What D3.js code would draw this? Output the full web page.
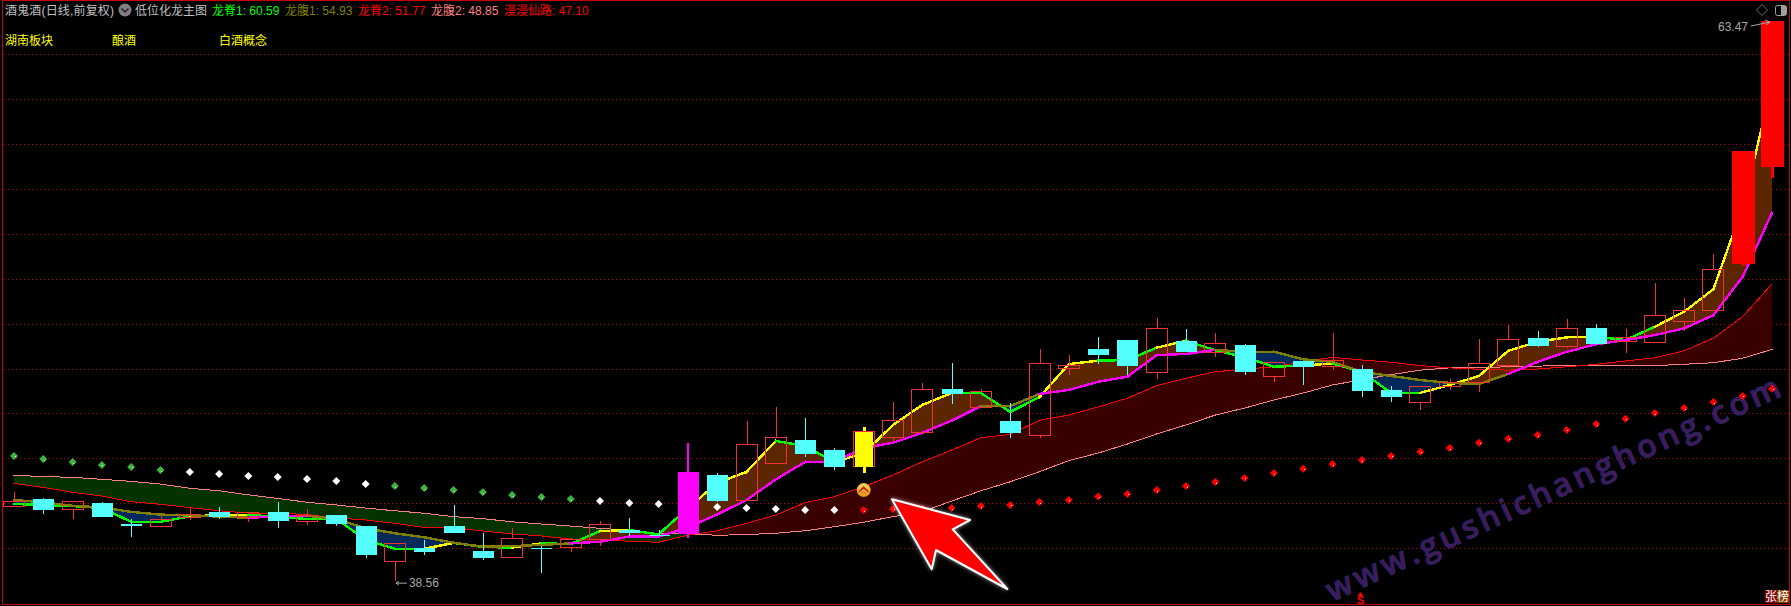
<!DOCTYPE html>
<html>
<head>
<meta charset="utf-8">
<style>
html,body{margin:0;padding:0;background:#000;}
svg{display:block;}
text{font-family:"Liberation Sans","Noto Sans CJK SC",sans-serif;font-size:12px;}
</style>
<script src="https://cdn.jsdelivr.net/npm/d3@7/dist/d3.min.js"></script>
</head>
<body>
<div id="chart"></div>
<script>
const opens = [41.85,42.19,41.72,42.02,41.08,40.96,41.36,41.62,41.39,41.62,41.18,41.48,40.99,39.40,40.01,40.99,39.88,39.58,40.01,40.03,40.40,40.81,40.59,40.64,43.26,42.12,43.77,44.82,44.37,43.62,44.91,45.14,47.09,46.25,45.67,45.01,47.99,48.87,49.27,47.81,49.23,48.71,49.05,47.64,48.34,48.08,47.98,47.04,46.48,47.19,47.39,48.13,49.36,48.97,49.80,49.21,49.15,50.09,50.57,52.65,56.97];
const closes = [42.09,41.70,42.09,41.39,41.00,41.29,41.51,41.39,41.60,41.22,41.45,41.08,39.70,40.22,39.84,40.68,39.57,40.44,39.97,40.40,41.07,40.68,40.55,43.40,42.11,44.63,44.94,44.20,43.62,45.18,45.71,47.08,46.87,46.99,45.13,48.23,48.14,48.60,48.11,49.79,48.73,49.12,47.85,48.28,48.07,48.38,47.00,46.73,47.21,47.39,48.23,49.30,49.00,49.79,49.09,49.39,50.37,50.59,52.42,57.68,63.47];
const highs = [42.50,42.24,42.09,42.08,41.30,41.45,41.82,41.84,41.60,42.06,41.75,41.48,40.99,40.22,40.37,41.93,40.68,40.90,40.10,40.46,41.22,41.35,40.81,44.69,43.35,45.67,46.29,45.80,44.46,45.40,46.51,47.36,48.24,47.09,46.47,48.87,48.60,49.40,49.27,50.25,49.76,49.58,49.09,48.28,48.34,49.58,48.16,47.22,47.21,47.53,49.31,49.94,49.67,50.20,49.98,49.76,51.81,51.14,53.10,57.68,63.47];
const lows = [41.85,41.53,41.30,41.39,40.50,40.96,41.26,41.30,41.17,40.90,41.04,40.99,39.57,38.56,39.70,40.68,39.48,39.58,38.90,39.84,40.10,40.55,40.55,40.46,42.06,42.12,43.77,44.06,43.49,43.35,44.78,45.14,46.42,46.25,44.91,44.91,47.71,48.20,47.71,47.53,48.73,48.51,47.71,47.40,47.27,47.93,46.73,46.51,46.15,47.04,46.97,48.04,48.96,48.93,49.06,48.70,49.15,49.67,50.57,52.56,56.48];

const longJi1 = [41.97,41.93,41.88,41.79,41.18,41.18,41.42,41.48,41.48,41.41,41.30,41.32,40.37,39.98,39.98,40.24,40.06,40.03,40.22,40.19,40.77,40.81,40.62,41.79,42.91,43.40,44.78,44.55,43.84,44.23,45.49,46.38,46.91,46.91,46.07,46.73,48.20,48.35,48.38,48.93,49.24,48.81,48.51,48.08,48.13,48.23,47.85,46.92,46.92,47.27,47.67,48.79,49.19,49.39,49.42,49.27,49.86,50.53,51.53,55.20,60.59];
const longFu1 = [42.15,42.05,41.89,41.82,41.62,41.50,41.47,41.41,41.36,41.42,41.45,41.30,40.89,40.67,40.49,40.25,40.07,40.10,40.15,40.22,40.29,40.52,40.52,40.93,41.51,42.15,43.07,43.84,43.84,44.46,44.70,45.14,45.68,46.33,46.33,46.87,47.05,47.41,47.64,48.60,48.65,48.83,48.75,48.75,48.41,48.30,47.85,47.67,47.49,47.36,47.31,47.76,48.30,48.75,49.08,49.27,49.49,49.79,50.38,52.09,54.93];
const longJi2 = [42.89,42.71,42.49,42.33,42.07,41.96,41.81,41.67,41.57,41.57,41.50,41.35,41.26,41.11,40.93,40.92,40.77,40.64,40.55,40.41,40.40,40.31,40.27,40.59,40.78,41.11,41.48,42.03,42.30,42.74,43.26,43.85,44.37,44.92,45.07,45.70,45.93,46.29,46.68,47.24,47.57,47.86,47.97,48.08,48.30,48.50,48.38,48.28,48.13,48.03,47.97,47.93,47.98,48.08,48.19,48.34,48.48,48.79,49.35,50.31,51.77];
const longFu2 = [43.25,43.19,43.16,43.07,42.98,42.86,42.67,42.56,42.38,42.22,42.05,41.93,41.79,41.67,41.56,41.41,41.32,41.18,41.08,40.99,40.89,40.81,40.64,40.64,40.58,40.61,40.67,40.78,40.96,41.16,41.41,41.63,42.10,42.56,42.96,43.41,43.90,44.24,44.64,45.09,45.49,45.93,46.24,46.60,46.91,47.27,47.50,47.73,47.93,48.03,48.04,48.08,48.11,48.13,48.13,48.13,48.13,48.19,48.26,48.46,48.85];
const manMan = [44.11,43.97,43.84,43.71,43.62,43.48,43.40,43.31,43.22,43.17,43.08,42.99,42.86,42.77,42.68,42.59,42.50,42.37,42.28,42.19,42.10,42.02,41.97,41.88,41.84,41.79,41.75,41.70,41.70,41.70,41.75,41.77,41.79,41.88,41.93,42.06,42.15,42.30,42.42,42.59,42.77,42.95,43.13,43.35,43.54,43.75,43.93,44.11,44.30,44.46,44.70,44.88,45.04,45.27,45.53,45.77,46.02,46.24,46.51,46.78,47.10];

const dotStates = ["g","g","g","g","g","g","w","w","w","w","w","w","w","g","g","g","g","g","g","g","w","w","w","w","w","w","w","w","w","r","r","r","r","r","r","r","r","r","r","r","r","r","r","r","r","r","r","r","r","r","r","r","r","r","r","r","r","r","r","r","r"];
const ji1YellowSegments = [6,7,14,17,20,23,24,25,28,29,30,31,35,36,39,44,48,49,50,51,52,53,56,57,58,59];
const fu1OliveSegments = [0,1,2,3,4,5,6,7,10,11,12,13,14,15,16,17,18,33,34,41,42,43,44,45,46,47,48,49,50];
const magentaBars = [23];
const yellowBars = [29];
const solidRedBars = [59,60];
const gridPrices = [40,42,44,46,48,50,52,54,56,58,60,62];
const signalIndex = 29, signalPrice = 42.59;
const highLabel = "63.47", lowLabel = "38.56";
const stockTitle = "酒鬼酒(日线,前复权)";
const mainTitle = "低位化龙主图";
const legendNames = ["龙脊1: 60.59","龙腹1: 54.93","龙脊2: 51.77","龙腹2: 48.85","漫漫仙路: 47.10"];
const conceptTags = ["湖南板块","酿酒","白酒概念"];
const watermark = "www.gushichanghong.com";

const W = 1791, H = 606;
const svg = d3.select("#chart").append("svg").attr("width",W).attr("height",H).style("background","#000");
const x = d3.scaleLinear().domain([0,60]).range([14,1772]);
const y = d3.scaleLinear().domain([40,62]).range([548.3,54]);
const idx = d3.range(opens.length);

// frame
svg.append("rect").attr("x",2.5).attr("y",0.5).attr("width",1787).attr("height",603.5)
  .attr("fill","none").attr("stroke","#c80000").attr("shape-rendering","crispEdges");

// grid
svg.append("g").selectAll("line").data(gridPrices).join("line")
  .attr("x1",4).attr("x2",1789).attr("y1",d=>Math.round(y(d))+0.5).attr("y2",d=>Math.round(y(d))+0.5)
  .attr("stroke","#b00000").attr("stroke-dasharray","1 3").attr("shape-rendering","crispEdges");

// watermark
svg.append("text").text(watermark)
  .attr("transform","translate(1332,602) rotate(-24.6)")
  .attr("textLength",496).attr("lengthAdjust","spacing")
  .style("font-family","'Open Sans','Noto Sans',sans-serif").style("font-size","32px").style("font-weight","600")
  .attr("fill","#451858").attr("stroke","#26266a").attr("stroke-width",0.9);

// bands
function bands(a,b,colorAbove,colorBelow){
  const runs=[]; let cur=null;
  idx.forEach(i=>{
    const d=a[i]-b[i], sign=d>=0?1:-1;
    if(i>0){ const pd=a[i-1]-b[i-1];
      if(pd*d<0){ const t=pd/(pd-d), v=a[i-1]+t*(a[i]-a[i-1]), c={i:i-1+t,a:v,b:v};
        cur.pts.push(c); cur={sign,pts:[c]}; runs.push(cur); } }
    if(!cur){ cur={sign,pts:[]}; runs.push(cur); }
    cur.pts.push({i,a:a[i],b:b[i]});
  });
  const area=d3.area().x(d=>x(d.i)).y0(d=>y(d.a)).y1(d=>y(d.b));
  const g=svg.append("g").attr("shape-rendering","crispEdges");
  runs.forEach(r=>g.append("path").attr("d",area(r.pts)).attr("fill",r.sign>0?colorAbove:colorBelow));
}
bands(longJi2,longFu2,"#3a0000","#053300");
bands(longJi1,longFu1,"#5c2600","#03295a");

// line helper: coloured by segment
function segLine(vals,colorFn,width){
  const line=d3.line().x(i=>x(i)).y(i=>y(vals[i]));
  const g=svg.append("g").attr("fill","none").attr("stroke-width",width).attr("shape-rendering","crispEdges").attr("stroke-linecap","square");
  idx.slice(0,-1).forEach(i=>g.append("path").attr("d",line([i,i+1])).attr("stroke",colorFn(i)));
}
segLine(longFu2,()=>"#ff8080",1);
segLine(longJi2,()=>"#ff0000",1);

// SAR dots
const dotColor={g:"#3fb53f",w:"#ffffff",r:"#ff0000"};
const diamond=d3.symbol().type(d3.symbolSquare).size(32);
const dots=svg.append("g");
dots.selectAll("path").data(idx).join("path").attr("d",diamond)
  .attr("transform",i=>`translate(${x(i)},${y(manMan[i])}) rotate(45)`)
  .attr("fill",i=>dotColor[dotStates[i]]);
dots.selectAll("rect").data(idx.filter(i=>dotStates[i]!=="w")).join("rect")
  .attr("x",i=>x(i)+0.5).attr("y",i=>y(manMan[i])+0.5).attr("width",1).attr("height",1).attr("fill","#fff").attr("shape-rendering","crispEdges");

segLine(longJi1,i=>ji1YellowSegments.includes(i)?"#ffff00":"#00ff00",2.4);
segLine(longFu1,i=>fu1OliveSegments.includes(i)?"#808000":"#ff00ff",2.4);

// candles
const RED="#f03232", CYAN="#54ffff";
const cg=svg.append("g").attr("shape-rendering","crispEdges");
idx.forEach(i=>{
  const cx=Math.round(x(i)), top=y(Math.max(opens[i],closes[i])), bot=y(Math.min(opens[i],closes[i]));
  const hi=y(highs[i]), lo=y(lows[i]);
  const isUp=closes[i]>=opens[i];
  const wick=(w,c)=>{
    cg.append("rect").attr("x",cx-w/2).attr("width",w).attr("y",hi).attr("height",Math.max(0,top-hi)).attr("fill",c);
    cg.append("rect").attr("x",cx-w/2).attr("width",w).attr("y",bot).attr("height",Math.max(0,lo-bot)).attr("fill",c);
  };
  if(magentaBars.includes(i)){ wick(2,"#ff00ff");
    cg.append("rect").attr("x",cx-10.5).attr("width",21).attr("y",top).attr("height",bot-top).attr("fill","#ff00ff");
  } else if(yellowBars.includes(i)){ wick(3,"#ffff00");
    cg.append("rect").attr("x",cx-10.5).attr("y",top).attr("width",21).attr("height",bot-top).attr("fill","none").attr("stroke",RED);
    cg.append("rect").attr("x",cx-9).attr("width",18).attr("y",top).attr("height",bot-top).attr("fill","#ffff00");
  } else if(solidRedBars.includes(i)){ wick(3,"#ff0000");
    cg.append("rect").attr("x",cx-11.5).attr("width",23).attr("y",top).attr("height",bot-top).attr("fill","#ff0000");
  } else if(isUp){ wick(1,RED);
    cg.append("rect").attr("x",cx-10.5).attr("y",top).attr("width",21).attr("height",bot-top).attr("fill","none").attr("stroke",RED);
  } else { wick(1,CYAN);
    cg.append("rect").attr("x",cx-10.5).attr("width",21).attr("y",top).attr("height",Math.max(1,bot-top)).attr("fill",CYAN);
  }
});

// signal coin
const defs=svg.append("defs");
const grad=defs.append("radialGradient").attr("id","coin").attr("cx","50%").attr("cy","30%").attr("r","75%");
grad.append("stop").attr("offset","0%").attr("stop-color","#ffe060");
grad.append("stop").attr("offset","60%").attr("stop-color","#f5b52a");
grad.append("stop").attr("offset","100%").attr("stop-color","#d97a10");
const coin=svg.append("g").attr("transform",`translate(${x(signalIndex)},${y(signalPrice)})`);
coin.append("circle").attr("r",7).attr("fill","url(#coin)");
coin.append("path").attr("d","M-5,1 L0,-4 L5,1 L5,3 L0,-1 L-5,3 Z").attr("fill","#c8281e");
coin.append("path").attr("d","M-3,3 L0,0.5 L3,3 L3,4 L-3,4 Z").attr("fill","#f08030");

// hi/lo labels
const labelC="#a8a8a8";
const lowX=x(13), lowY=y(38.56);
svg.append("path").attr("d",`M${lowX+1},${lowY+2.5} h11 M${lowX+1},${lowY+2.5} l3,-2 M${lowX+1},${lowY+2.5} l3,2`).attr("stroke",labelC).attr("fill","none");
svg.append("text").text(lowLabel).attr("x",lowX+14).attr("y",lowY+6.5).attr("fill",labelC);
svg.append("text").text(highLabel).attr("x",1718).attr("y",31).attr("fill",labelC);
svg.append("path").attr("d","M1751,26 L1770,22 M1770,22 L1765,20 M1770,22 L1766,25").attr("stroke",labelC).attr("fill","none");

// header text
const T=(s,xp,yp,c)=>svg.append("text").text(s).attr("x",xp).attr("y",yp).attr("fill",c);
T(stockTitle,5,15,"#c0c0c0").attr("textLength",109).attr("lengthAdjust","spacing");
svg.append("circle").attr("cx",125).attr("cy",10).attr("r",6.5).attr("fill","#808080");
svg.append("path").attr("d","M121.5,8.5 L125,12 L128.5,8.5").attr("stroke","#222").attr("stroke-width",1.5).attr("fill","none");
T(mainTitle,135,15,"#c0c0c0");
const legendX=[212,285,358,431,504], legendC=["#00ff00","#808000","#ff0000","#ff8080","#ff0000"];
legendNames.forEach((s,i)=>T(s,legendX[i],15,legendC[i]));
const tagX=[5,112,219];
conceptTags.forEach((s,i)=>T(s,tagX[i],45,"#ffff00"));

// top right icons
svg.append("path").attr("d","M1762,4.5 L1767.5,10 L1762,15.5 L1756.5,10 Z").attr("fill","none").attr("stroke","#707070");
svg.append("rect").attr("x",1775.5).attr("y",5.5).attr("width",11).attr("height",10).attr("rx",2).attr("fill","none").attr("stroke","#a0a0a0");
svg.append("rect").attr("x",1781).attr("y",6).attr("width",5).attr("height",9).attr("fill","#a0a0a0");

// annotation arrow
svg.append("path").attr("d","M892,499.3 L970,520 L952.7,529.3 L1007.3,589 L936,550 L931.7,569.3 Z")
  .attr("fill","#ff0000").attr("stroke","#ffffff").attr("stroke-width",2).attr("stroke-linejoin","round")
  .style("filter","drop-shadow(0 0 2px rgba(255,255,255,0.6))");

// S marker
svg.append("path").attr("d","M1360.5,592 l3,4 h-6 Z").attr("fill","#ff0000");
svg.append("text").text("S").attr("x",1357).attr("y",604).attr("fill","#ff0000").style("font-size","11px").style("font-weight","bold");

// badges
svg.append("rect").attr("x",1765).attr("y",590).attr("width",12).attr("height",13).attr("fill","#800000");
svg.append("rect").attr("x",1777).attr("y",590).attr("width",12).attr("height",13).attr("fill","#804000");
T("张",1765,601,"#ffffff"); T("榜",1777,601,"#ffffff");
</script>
</body>
</html>
